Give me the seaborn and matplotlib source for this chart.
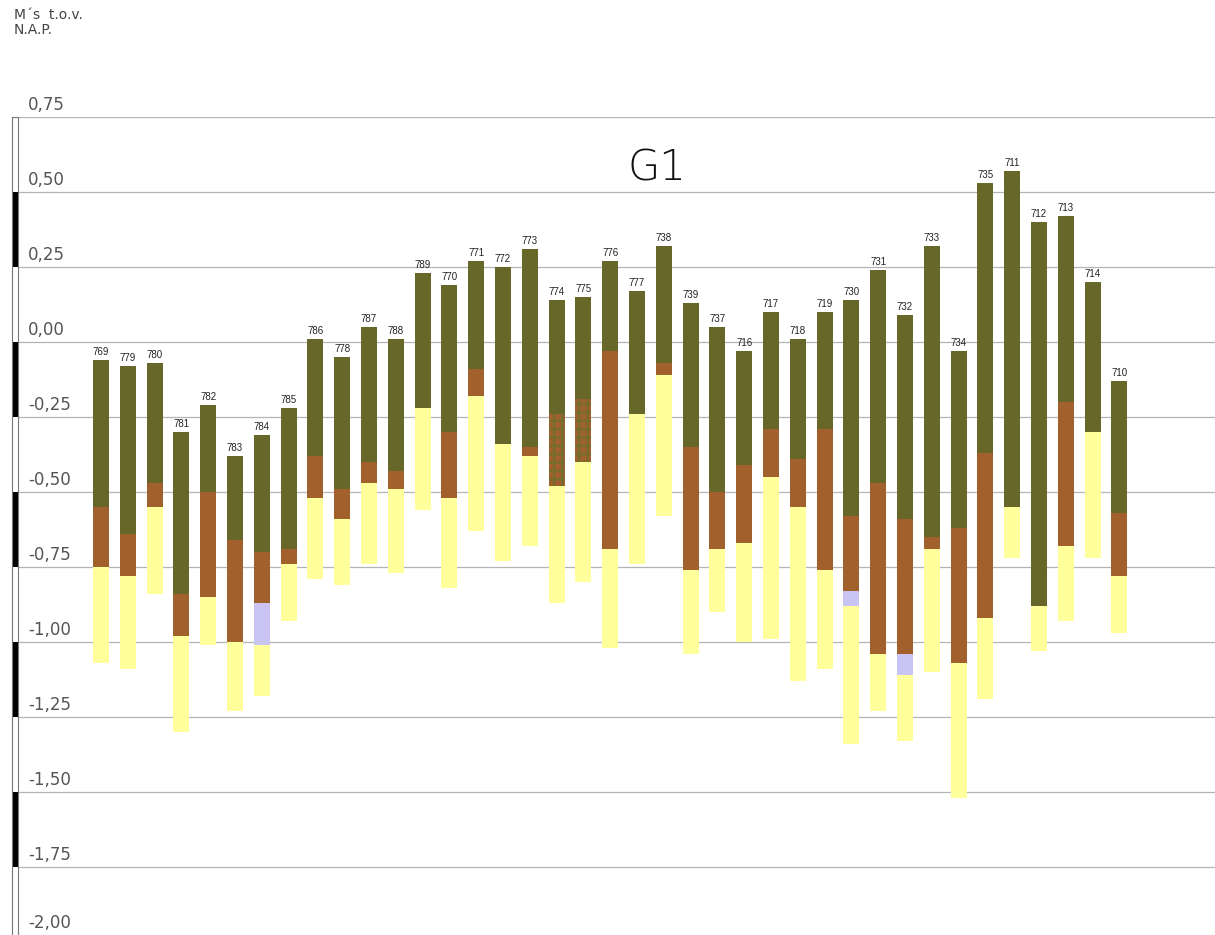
import matplotlib
matplotlib.use("Agg")
import matplotlib.pyplot as plt
import matplotlib.transforms as mtransforms
import seaborn as sns
import numpy as np
import pandas as pd

# ---------------- data ----------------
boring = ["769", "779", "780", "781", "782", "783", "784", "785", "786", "778",
          "787", "788", "789", "770", "771", "772", "773", "774", "775", "776",
          "777", "738", "739", "737", "716", "717", "718", "719", "730", "731",
          "732", "733", "734", "735", "711", "712", "713", "714", "710"]

# top of each profile (m t.o.v. NAP)
surface = [-0.06, -0.08, -0.07, -0.30, -0.21, -0.38, -0.31, -0.22, 0.01, -0.05,
           0.05, 0.01, 0.23, 0.19, 0.27, 0.25, 0.31, 0.14, 0.15, 0.27,
           0.17, 0.32, 0.13, 0.05, -0.03, 0.10, 0.01, 0.10, 0.14, 0.24,
           0.09, 0.32, -0.03, 0.53, 0.57, 0.40, 0.42, 0.20, -0.13]
# base of the olive (topsoil) layer
olive_base = [-0.55, -0.64, -0.47, -0.84, -0.50, -0.66, -0.70, -0.69, -0.38, -0.49,
              -0.40, -0.43, -0.22, -0.30, -0.09, -0.34, -0.35, -0.24, -0.19, -0.03,
              -0.24, -0.07, -0.35, -0.50, -0.41, -0.29, -0.39, -0.29, -0.58, -0.47,
              -0.59, -0.65, -0.62, -0.37, -0.55, -0.88, -0.20, -0.30, -0.57]
# base of the brown (clay) layer
brown_base = [-0.75, -0.78, -0.55, -0.98, -0.85, -1.00, -0.87, -0.74, -0.52, -0.59,
              -0.47, -0.49, -0.22, -0.52, -0.18, -0.34, -0.38, -0.48, -0.40, -0.69,
              -0.24, -0.11, -0.76, -0.69, -0.67, -0.45, -0.55, -0.76, -0.83, -1.04,
              -1.04, -0.69, -1.07, -0.92, -0.55, -0.88, -0.68, -0.30, -0.78]
# base of the lilac (peat) layer
lilac_base = [-0.75, -0.78, -0.55, -0.98, -0.85, -1.00, -1.01, -0.74, -0.52, -0.59,
              -0.47, -0.49, -0.22, -0.52, -0.18, -0.34, -0.38, -0.48, -0.40, -0.69,
              -0.24, -0.11, -0.76, -0.69, -0.67, -0.45, -0.55, -0.76, -0.88, -1.04,
              -1.11, -0.69, -1.07, -0.92, -0.55, -0.88, -0.68, -0.30, -0.78]
# base of the yellow (sand) layer
sand_base = [-1.07, -1.09, -0.84, -1.30, -1.01, -1.23, -1.18, -0.93, -0.79, -0.81,
             -0.74, -0.77, -0.56, -0.82, -0.63, -0.73, -0.68, -0.87, -0.80, -1.02,
             -0.74, -0.58, -1.04, -0.90, -1.00, -0.99, -1.13, -1.09, -1.34, -1.23,
             -1.33, -1.10, -1.52, -1.19, -0.72, -1.03, -0.93, -0.72, -0.97]
# kind of the brown layer: plain clay or mixed (checkered)
brown_kind = ["klei"] * 17 + ["gemengd", "gemengd"] + ["klei"] * 20

y_ticks = [0.75, 0.50, 0.25, 0.00, -0.25, -0.50, -0.75, -1.00, -1.25, -1.50, -1.75, -2.00]
title = "G1"
unit_label = "M\u00b4s  t.o.v.\nN.A.P."

# ---------------- style ----------------
OLIVE = "#67672a"
BROWN = "#a2602c"
LILAC = "#c9c4f4"
SAND = "#ffff9c"
GRID = "#b4b4b4"
TEXT = "#555555"

sns.set_theme(style="white")
plt.rcParams["font.family"] = ["DejaVu Sans"]
plt.rcParams["hatch.linewidth"] = 2.0

W, H = 1215, 935
fig = plt.figure(figsize=(W / 100, H / 100), dpi=100)
fig.patch.set_facecolor("white")

ax_rect = [18 / W, -7 / H, 1197 / W, 825 / H]
ax = fig.add_axes(ax_rect)
ax.set_facecolor("white")

surface_a = np.array(surface)
olive_a = np.array(olive_base)
brown_a = np.array(brown_base)
lilac_a = np.array(lilac_base)
sand_a = np.array(sand_base)
mixed = np.array([k == "gemengd" for k in brown_kind])

layers = [
    ("olive", surface_a, olive_a - surface_a, OLIVE, None),
    ("brown", olive_a, np.where(mixed, 0.0, brown_a - olive_a), BROWN, None),
    ("mixed", olive_a, np.where(mixed, brown_a - olive_a, 0.0), BROWN, "++"),
    ("lilac", brown_a, lilac_a - brown_a, LILAC, None),
    ("sand", lilac_a, sand_a - lilac_a, SAND, None),
]

for name, top, thick, color, hatch in layers:
    d = pd.DataFrame({"boring": boring, "dikte": thick})
    kws = dict(data=d, x="boring", y="dikte", order=boring, color=color,
               saturation=1, width=0.6, errorbar=None, ax=ax,
               bottom=top, linewidth=0)
    if hatch:
        kws.update(hatch=hatch, edgecolor="#7a6a2c")
    else:
        kws.update(edgecolor=color)
    sns.barplot(**kws)

# x / y scales
px_per_unit = 26.8
ax.set_xlim((18 - 101) / px_per_unit, (1215 - 101) / px_per_unit)
ax.set_ylim(-2.0, 0.75)
ax.set_xlabel("")
ax.set_ylabel("")
ax.set_xticks([])
ax.set_yticks(y_ticks)
ax.set_yticklabels([])
ax.tick_params(axis="y", length=0)
ax.grid(axis="y", color=GRID, linewidth=0.9)
ax.set_axisbelow(True)
for s in ax.spines.values():
    s.set_visible(False)

# y tick labels (drawn above the grid lines, Dutch decimal comma)
blend = mtransforms.blended_transform_factory(ax.transAxes, ax.transData)
for v in y_ticks:
    txt = f"{v:.2f}".replace(".", ",")
    off = 3 if v > -2 else 10
    tr = blend + mtransforms.ScaledTranslation(0, off / 100, fig.dpi_scale_trans)
    ax.text(10 / 1197, v, txt, transform=tr, ha="left", va="bottom",
            fontsize=12, color=TEXT, clip_on=False)

# labels above bars
bar_tr = ax.transData + mtransforms.ScaledTranslation(0, 3 / 100, fig.dpi_scale_trans)
for i, (lab, top) in enumerate(zip(boring, surface)):
    ax.text(i, top, lab, transform=bar_tr, ha="center", va="bottom",
            fontsize=7, family=["Liberation Sans Narrow", "Liberation Sans", "DejaVu Sans"],
            color="#222222")

# title
ax.text((657 - 18) / 1197, 0.58, title, transform=blend, ha="center", va="center",
        fontsize=30, fontweight="light", color="#111111",
        family=["DejaVu Sans"])

# unit label top-left
fig.text(14 / W, 1 - 8 / H, unit_label, ha="left", va="top", fontsize=10,
         color="#444444", linespacing=1.05)

# scale strip on the left
strip = fig.add_axes([12 / W, ax_rect[1], 6 / W, ax_rect[3]])
strip.set_ylim(-2.0, 0.75)
strip.set_xlim(0, 1)
strip.set_xticks([])
strip.set_yticks([])
for idx, (a, b) in enumerate(zip(y_ticks[:-1], y_ticks[1:])):
    if idx % 2 == 1:
        strip.axhspan(b, a, color="black", lw=0)
for s in strip.spines.values():
    s.set_color("#777777")
    s.set_linewidth(0.8)

fig.savefig("out.png", dpi=100, facecolor="white")
